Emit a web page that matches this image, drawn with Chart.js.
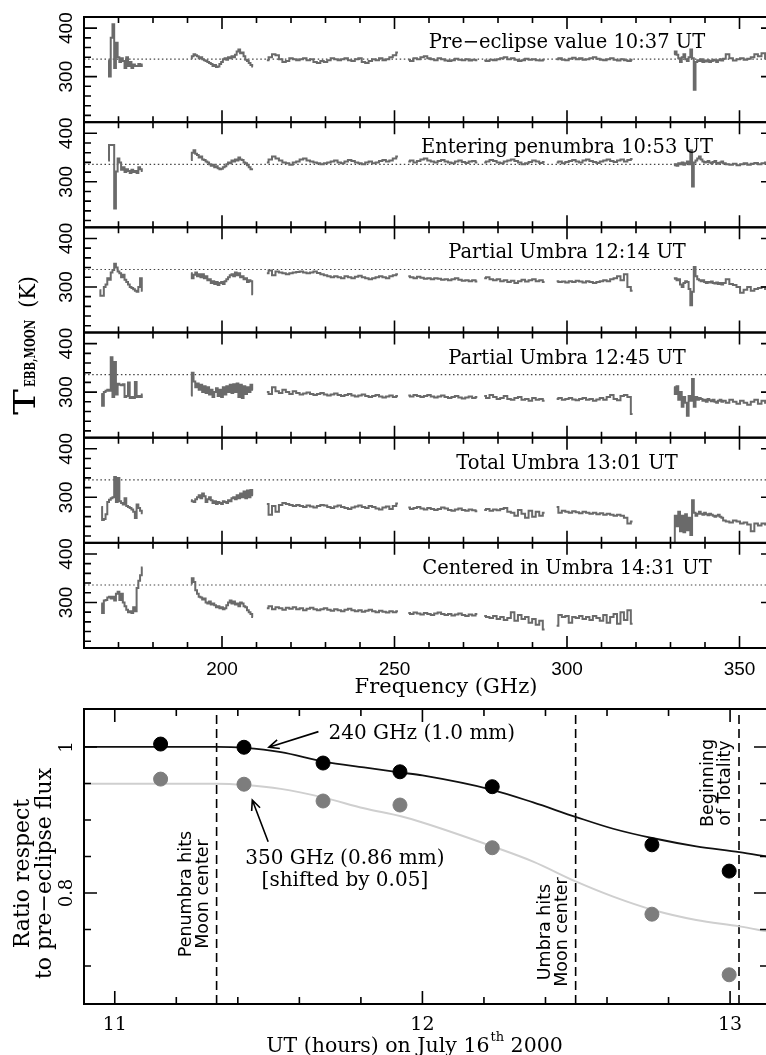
<!DOCTYPE html>
<html>
<head>
<meta charset="utf-8">
<script src="https://cdn.jsdelivr.net/npm/chart.js@4.4.0/dist/chart.umd.min.js"></script>
<style>
  html, body { margin: 0; padding: 0; background: #fff; overflow: hidden; }
  #wrap { position: relative; width: 766px; height: 1055px; overflow: hidden; }
  canvas { position: absolute; left: 0; }
  #spectra { top: 0; }
  #ratio { top: 700px; }
</style>
</head>
<body>
<div id="wrap">
  <canvas id="spectra" width="775" height="700"></canvas>
  <canvas id="ratio" width="775" height="355"></canvas>
</div>
<script>
// ---- spectra (top six panels) ----
const freqMin = 160, freqMax = 360;
const tempMin = 206, tempMax = 423;
const preEclipseLevel = 336;
const freqTicks = [200, 250, 300, 350];
const tempTicks = [300, 400];

// sideband limits in GHz (first band differs per panel)
const bandEdges = [[191, 209], [213, 251], [254, 274], [276, 293.5], [297, 319], [331, 345], [345.5, 360]];
const firstBand = [[167, 177], [167, 177], [164.5, 177], [165, 177], [165, 177], [165, 177]];

const panelTitles = ['Pre\u2212eclipse value 10:37 UT', 'Entering penumbra 10:53 UT', 'Partial Umbra 12:14 UT',
  'Partial Umbra 12:45 UT', 'Total Umbra 13:01 UT', 'Centered in Umbra 14:31 UT'];

// brightness temperature (K) per band
const preEclipse = [
  [333,300,380,408,318,370,340,330,338,332,318,340,322,330,318,325,322,322,326,322,325],
  [338,342,346,344,342,338,340,336,334,332,330,328,326,322,324,320,321,326,330,336,338,335,340,338,342,340,345,352,356,348,350,342,335,332,328,324,321],
  [334,340,346,344,336,330,332,338,336,334,336,338,334,336,330,328,332,330,334,338,336,334,336,338,334,332,336,338,330,328,332,336,334,338,334,336,340,344,350],
  [335,332,338,336,340,342,338,336,334,338,336,333,332,334,337,335,334,336,333,335,334],
  [333,332,335,334,336,338,340,336,338,335,332,334,337,335,336,334,333,335],
  [336,338,335,334,337,339,336,338,335,336,338,340,337,335,334,336,338,335,333,336,334,332,335],
  [346,352,345,338,330,340,346,336,332,340,356,338,273,330,334,332,336,330,333,331,334,330,332,335,333,330,334,336,333],
  [337,346,338,333,336,338,335,337,340,346,342,348,338,336,340]
];
const enteringPenumbra = [
  [344,376,376,376,245,321,348,340,325,330,320,326,322,318,325,320,322,318,330,326,322],
  [345,360,365,358,355,350,352,346,345,342,340,336,333,335,330,332,328,326,327,330,332,336,340,338,344,342,346,344,350,346,345,340,338,334,330,326,326],
  [340,346,352,348,344,340,338,335,340,342,346,348,344,342,340,338,336,338,340,342,344,340,338,342,345,343,340,338,336,340,342,338,340,343,345,342,344,348,352],
  [342,344,340,343,346,348,344,342,340,343,345,342,340,338,342,344,341,339,342,343,340],
  [340,342,345,343,340,338,342,344,346,343,340,336,338,341,344,342,339,341],
  [340,342,338,341,343,345,342,340,344,346,343,341,339,342,344,346,343,341,344,346,342,345,347],
  [334,336,333,338,336,340,335,338,342,336,365,290,340,344,348,352,346,342,340,341,343,340,338,341,343,339,337,340,342],
  [338,336,335,337,334,336,338,335,337,339,336,338,340,337,339]
];
const partialUmbra1214 = [
  [293,282,282,300,305,318,315,330,335,348,340,332,328,320,325,315,310,305,300,298,295,292,290,300,318,292],
  [328,318,325,330,322,326,320,326,318,322,314,316,308,312,306,310,304,308,310,306,312,316,320,324,326,322,330,324,328,320,322,316,318,310,314,312,285],
  [328,334,324,332,330,328,326,328,330,331,332,330,328,330,332,329,326,324,322,320,322,320,318,322,320,318,321,323,320,318,316,318,320,322,320,318,322,324,326],
  [322,320,318,321,319,317,318,316,318,317,315,316,314,316,318,315,313,314,312,314,311],
  [318,320,316,314,316,312,314,310,313,308,312,315,311,314,316,312,314,310],
  [312,310,311,309,312,310,313,311,309,312,310,308,310,312,314,312,316,318,322,314,326,300,292],
  [317,318,314,316,305,300,308,312,310,296,262,290,341,322,316,314,312,314,310,308,310,309,311,308,307,309,306,308,305],
  [308,316,306,304,300,288,294,300,292,296,298,300,296,298,300]
];
const partialUmbra1245 = [
  [296,272,300,303,305,303,372,290,362,295,317,315,314,316,290,292,320,288,290,288,321,290,292,290,295],
  [293,340,322,310,318,305,315,300,312,298,310,295,305,290,300,308,292,305,290,310,295,312,300,315,298,316,300,318,290,315,288,312,296,310,300,315,305],
  [300,296,310,302,298,305,300,296,302,298,295,297,299,296,294,296,298,295,293,295,297,294,292,294,296,293,291,293,295,292,290,292,294,291,289,291,293,290,292],
  [293,291,294,292,290,292,294,291,289,291,293,290,288,290,292,289,287,289,291,288,290],
  [292,288,294,290,286,288,292,286,284,288,290,284,286,282,288,284,286,282],
  [286,288,284,286,288,285,283,286,288,284,286,282,285,288,284,290,294,286,283,292,294,290,255],
  [310,296,312,284,300,270,290,278,251,292,282,327,270,290,284,288,286,282,284,280,286,283,281,284,280,278,282,284,280],
  [282,278,284,280,276,282,278,274,280,284,276,282,278,274,280]
];
const totalUmbra = [
  [280,253,255,265,290,295,298,300,342,290,340,292,288,285,298,282,280,278,275,270,257,285,278,272,267],
  [294,292,290,296,300,304,298,308,302,290,296,300,294,288,292,286,290,288,286,292,290,288,294,292,298,300,296,304,298,308,300,312,298,314,300,315,304],
  [286,264,282,270,284,288,286,284,282,284,282,280,283,281,279,282,284,283,280,278,281,283,280,278,276,279,281,283,280,278,282,280,277,275,279,281,276,282,287],
  [279,276,278,280,277,275,278,276,274,276,279,277,274,272,275,277,274,272,275,273,271],
  [274,276,272,275,273,276,278,270,268,262,274,266,258,272,260,270,262,268],
  [280,268,272,270,268,271,269,267,270,268,266,268,265,267,264,266,264,262,264,262,258,246,250],
  [210,262,240,270,230,262,228,265,232,258,222,294,268,262,266,270,266,264,268,265,263,266,264,262,260,262,264,260,258],
  [252,250,248,252,250,246,248,244,230,246,242,246,244,246,244]
];
const centeredUmbra = [
  [298,278,304,305,310,312,308,312,304,318,322,305,318,300,292,285,280,282,278,290,282,330,345,356,372],
  [339,350,342,325,318,312,310,306,308,300,298,302,296,298,294,290,292,288,290,286,288,294,300,304,298,302,296,298,292,300,298,292,290,284,280,276,270],
  [288,292,286,290,288,285,289,287,290,286,288,284,287,289,286,284,286,288,285,283,286,284,282,285,287,284,282,284,281,283,285,282,280,283,281,279,282,280,282],
  [278,276,279,277,275,278,276,274,277,279,276,274,276,273,275,277,274,272,275,273,276],
  [272,270,268,272,266,270,264,268,280,262,274,266,270,258,266,254,262,244],
  [252,274,270,272,258,270,268,272,266,270,264,272,268,262,274,258,270,276,256,280,264,284,256]
];
const spectra = [preEclipse, enteringPenumbra, partialUmbra1214, partialUmbra1245, totalUmbra, centeredUmbra];

// ---- ratio panel (bottom) ----
const utMin = 10.9, utMax = 13.12;
const ratioMin = 0.648, ratioMax = 1.052;
const utHours = [11.149, 11.42, 11.677, 11.927, 12.227, 12.746, 12.997];
const ratio240 = [1.004, 0.9996, 0.978, 0.966, 0.9456, 0.866, 0.830];
const ratio350 = [0.956, 0.949, 0.926, 0.9205, 0.862, 0.771, 0.688];
const modelHours = [10.9, 11.331, 11.42, 11.54, 11.68, 11.81, 11.93, 12.0, 12.23, 12.36, 12.5, 12.62, 12.75, 12.89, 13.03, 13.12];
const model240 = [1.0, 1.0, 0.9988, 0.993, 0.980, 0.972, 0.965, 0.961, 0.941, 0.924, 0.904, 0.888, 0.875, 0.864, 0.856, 0.850];
const model350 = [0.9495, 0.9495, 0.948, 0.9426, 0.9306, 0.916, 0.905, 0.8966, 0.8635, 0.843, 0.8155, 0.795, 0.7767, 0.763, 0.7543, 0.7475];
const eventHours = [11.331, 12.498, 13.029];
const eventLabels = [['Penumbra hits', 'Moon center'], ['Umbra hits', 'Moon center'], ['Beginning', 'of Totality']];
const eventLabelY = [0.7986, 0.7466, 0.9507];
const utTicks = [11, 12, 13];
const ratioTicks = [0.8, 1];

const SERIF = '"DejaVu Serif", serif';
const SANS = '"Liberation Sans", Arial, sans-serif';

function vText(ctx, text, bx, cy, font, align) {
  ctx.save();
  ctx.translate(bx, cy);
  ctx.rotate(-Math.PI / 2);
  ctx.font = font;
  ctx.textAlign = align || 'center';
  ctx.textBaseline = 'alphabetic';
  ctx.fillText(text, 0, 0);
  ctx.restore();
}

// draw text squeezed/stretched to a given advance width
function fillFit(ctx, text, x, y, width) {
  const w = ctx.measureText(text).width;
  ctx.save();
  ctx.translate(x, y);
  ctx.scale(width / w, 1);
  ctx.fillText(text, 0, 0);
  ctx.restore();
}

function buildSpectrum(first, bands) {
  const edges = [first].concat(bandEdges);
  const pts = [];
  bands.forEach((vals, i) => {
    const f0 = edges[i][0], f1 = edges[i][1];
    if (i > 0 && f0 - edges[i - 1][1] > 1.5) pts.push({x: (f0 + edges[i - 1][1]) / 2, y: null});
    vals.forEach((v, j) => pts.push({x: f0 + j * (f1 - f0) / (vals.length - 1), y: v}));
  });
  return pts;
}

const panelIds = ['p1', 'p2', 'p3', 'p4', 'p5', 'p6'];

const spectraScales = { x: { type: 'linear', min: freqMin, max: freqMax, display: false } };
// last defined axis is stacked on top, so add them bottom-up
panelIds.slice().reverse().forEach(id => {
  spectraScales[id] = {
    type: 'linear', position: 'left', stack: 'panels', stackWeight: 1,
    min: tempMin, max: tempMax,
    ticks: { display: false },
    grid: { display: false, drawTicks: false },
    border: { display: false },
    afterFit: s => { s.width = 0; }
  };
});

const spectraSets = [];
panelIds.forEach((id, k) => {
  spectraSets.push({
    data: buildSpectrum(firstBand[k], spectra[k]),
    yAxisID: id, borderColor: '#6a6a6a', borderWidth: 2,
    stepped: 'middle', pointRadius: 0, spanGaps: false
  });
});
panelIds.forEach(id => {
  spectraSets.push({
    data: [{x: freqMin, y: preEclipseLevel}, {x: freqMax, y: preEclipseLevel}],
    yAxisID: id, borderColor: '#444', borderWidth: 1.2, borderDash: [1.5, 2.6], pointRadius: 0
  });
});

const spectraFrame = {
  id: 'spectraFrame',
  afterDraw(chart) {
    const ctx = chart.ctx, area = chart.chartArea, x = chart.scales.x;
    ctx.save();
    ctx.strokeStyle = '#000';
    ctx.fillStyle = '#000';
    panelIds.forEach((id, k) => {
      const s = chart.scales[id];
      ctx.lineWidth = 2;
      ctx.strokeRect(area.left, s.top, area.right - area.left, s.bottom - s.top);
      ctx.lineWidth = 1.6;
      ctx.beginPath();
      for (let v = 220; v <= 420; v += 20) {
        const py = s.getPixelForValue(v);
        if (py < s.top + 2 || py > s.bottom - 2) continue;
        const len = v % 100 === 0 ? 13 : 7;
        ctx.moveTo(area.left, py); ctx.lineTo(area.left + len, py);
        ctx.moveTo(area.right, py); ctx.lineTo(area.right - len, py);
      }
      for (let f = 170; f <= 350; f += 10) {
        const px = x.getPixelForValue(f);
        const len = f % 50 === 0 ? 12 : 6;
        ctx.moveTo(px, s.top); ctx.lineTo(px, s.top + len);
        ctx.moveTo(px, s.bottom); ctx.lineTo(px, s.bottom - len);
      }
      ctx.stroke();
      tempTicks.forEach(t => vText(ctx, String(t), area.left - 12, s.getPixelForValue(t), '19px ' + SANS));
      ctx.font = '19.5px ' + SERIF;
      ctx.textAlign = 'center';
      ctx.fillText(panelTitles[k], x.getPixelForValue(300), s.top + 31);
    });
    const last = chart.scales[panelIds[panelIds.length - 1]];
    ctx.font = '19px ' + SANS;
    ctx.textAlign = 'center';
    freqTicks.forEach(f => ctx.fillText(String(f), x.getPixelForValue(f), last.bottom + 27));
    ctx.font = '21px ' + SERIF;
    ctx.fillText('Frequency (GHz)', 446, last.bottom + 45);
    // y title: T with subscript EBB,MOON then (K)
    ctx.save();
    ctx.translate(35, 415);
    ctx.rotate(-Math.PI / 2);
    ctx.textAlign = 'left';
    ctx.font = '29px ' + SERIF;
    fillFit(ctx, 'T', 0, 0, 26);
    ctx.font = 'bold 14px ' + SERIF;
    fillFit(ctx, 'EBB,MOON', 28, 0, 67);
    ctx.font = '23px ' + SERIF;
    fillFit(ctx, '(K)', 107, 0, 32);
    ctx.restore();
    ctx.restore();
  }
};

new Chart(document.getElementById('spectra'), {
  type: 'line',
  data: { datasets: spectraSets },
  options: {
    responsive: false, animation: false, devicePixelRatio: 1, events: [],
    layout: { padding: { left: 84, top: 17, right: 1, bottom: 52 } },
    scales: spectraScales,
    plugins: { legend: { display: false }, tooltip: { enabled: false } }
  },
  plugins: [spectraFrame]
});

// ---- bottom chart ----
function pairs(xs, ys) { return xs.map((v, i) => ({x: v, y: ys[i]})); }

function arrow(ctx, x0, y0, x1, y1) {
  const a = Math.atan2(y1 - y0, x1 - x0), h = 11, w = 0.42;
  ctx.beginPath();
  ctx.moveTo(x0, y0); ctx.lineTo(x1, y1);
  ctx.moveTo(x1 - h * Math.cos(a - w), y1 - h * Math.sin(a - w));
  ctx.lineTo(x1, y1);
  ctx.lineTo(x1 - h * Math.cos(a + w), y1 - h * Math.sin(a + w));
  ctx.stroke();
}

const ratioSets = [
  { data: pairs(utHours, ratio240), backgroundColor: '#000', borderColor: '#000', pointRadius: 7, showLine: false },
  { data: pairs(utHours, ratio350), backgroundColor: '#7d7d7d', borderColor: '#7d7d7d', pointRadius: 7, showLine: false },
  { data: pairs(modelHours, model240), borderColor: '#111', borderWidth: 1.8, pointRadius: 0, showLine: true, cubicInterpolationMode: 'monotone' },
  { data: pairs(modelHours, model350), borderColor: '#cfcfcf', borderWidth: 2, pointRadius: 0, showLine: true, cubicInterpolationMode: 'monotone' }
];
eventHours.forEach(h => {
  ratioSets.push({ data: [{x: h, y: ratioMin}, {x: h, y: ratioMax}], borderColor: '#000', borderWidth: 1.6,
    borderDash: [9, 5], pointRadius: 0, showLine: true });
});

const ratioFrame = {
  id: 'ratioFrame',
  afterDraw(chart) {
    const ctx = chart.ctx, area = chart.chartArea, x = chart.scales.x, y = chart.scales.y;
    ctx.save();
    ctx.strokeStyle = '#000';
    ctx.fillStyle = '#000';
    ctx.lineWidth = 2;
    ctx.strokeRect(area.left, area.top, area.right - area.left, area.bottom - area.top);
    ctx.lineWidth = 1.6;
    ctx.beginPath();
    for (let i = 0; i <= 10; i++) {
      const v = 11 + i * 0.2;
      const px = x.getPixelForValue(v);
      const len = i % 5 === 0 ? 13 : 7;
      ctx.moveTo(px, area.top); ctx.lineTo(px, area.top + len);
      ctx.moveTo(px, area.bottom); ctx.lineTo(px, area.bottom - len);
    }
    for (let i = 0; i <= 6; i++) {
      const v = 0.7 + i * 0.05;
      const py = y.getPixelForValue(v);
      const len = (i === 2 || i === 6) ? 13 : 7;
      ctx.moveTo(area.left, py); ctx.lineTo(area.left + len, py);
      ctx.moveTo(area.right, py); ctx.lineTo(area.right - len, py);
    }
    ctx.stroke();

    ctx.font = '19px ' + SERIF;
    ctx.textAlign = 'center';
    utTicks.forEach(t => ctx.fillText(String(t), x.getPixelForValue(t), area.bottom + 26));
    ratioTicks.forEach(t => vText(ctx, String(t), area.left - 12, y.getPixelForValue(t), '18px ' + SERIF));

    // x title with superscript
    const p1 = 'UT (hours) on July 16', p2 = 'th', p3 = ' 2000';
    ctx.textAlign = 'left';
    ctx.font = '20.5px ' + SERIF; const w1 = ctx.measureText(p1).width, w3 = ctx.measureText(p3).width;
    ctx.font = '13px ' + SERIF; const w2 = ctx.measureText(p2).width;
    const sx = 414 - (w1 + w2 + w3) / 2;
    const by = area.bottom + 48;
    ctx.font = '20.5px ' + SERIF; ctx.fillText(p1, sx, by);
    ctx.font = '13px ' + SERIF; ctx.fillText(p2, sx + w1 + 1, by - 11);
    ctx.font = '20.5px ' + SERIF; ctx.fillText(p3, sx + w1 + w2 + 1, by);

    // y title
    const cy = (area.top + area.bottom) / 2 + 17;
    vText(ctx, 'Ratio respect', 29, cy, '22px ' + SERIF);
    vText(ctx, 'to pre\u2212eclipse flux', 51, cy, '22px ' + SERIF);

    // event labels
    eventHours.forEach((h, i) => {
      const px = x.getPixelForValue(h), py = y.getPixelForValue(eventLabelY[i]);
      vText(ctx, eventLabels[i][0], px - 26, py, '17.5px "DejaVu Sans", sans-serif');
      vText(ctx, eventLabels[i][1], px - 9, py, '17.5px "DejaVu Sans", sans-serif');
    });

    // annotations
    ctx.font = '20px ' + SERIF;
    ctx.textAlign = 'left';
    ctx.fillText('240 GHz (1.0 mm)', x.getPixelForValue(11.695), y.getPixelForValue(1.0105));
    ctx.textAlign = 'center';
    ctx.fillText('350 GHz (0.86 mm)', x.getPixelForValue(11.748), y.getPixelForValue(0.8397));
    ctx.fillText('[shifted by 0.05]', x.getPixelForValue(11.748), y.getPixelForValue(0.8096));
    ctx.lineWidth = 1.6;
    arrow(ctx, x.getPixelForValue(11.662), y.getPixelForValue(1.021), x.getPixelForValue(11.501), y.getPixelForValue(0.9996));
    arrow(ctx, x.getPixelForValue(11.4986), y.getPixelForValue(0.8703), x.getPixelForValue(11.447), y.getPixelForValue(0.9274));
    ctx.restore();
  }
};

new Chart(document.getElementById('ratio'), {
  type: 'scatter',
  data: { datasets: ratioSets },
  options: {
    responsive: false, animation: false, devicePixelRatio: 1, events: [],
    layout: { padding: { left: 84, top: 9, right: 1, bottom: 51 } },
    scales: {
      x: { type: 'linear', min: utMin, max: utMax, display: false },
      y: { type: 'linear', min: ratioMin, max: ratioMax, display: false }
    },
    plugins: { legend: { display: false }, tooltip: { enabled: false } }
  },
  plugins: [ratioFrame]
});
</script>
</body>
</html>
